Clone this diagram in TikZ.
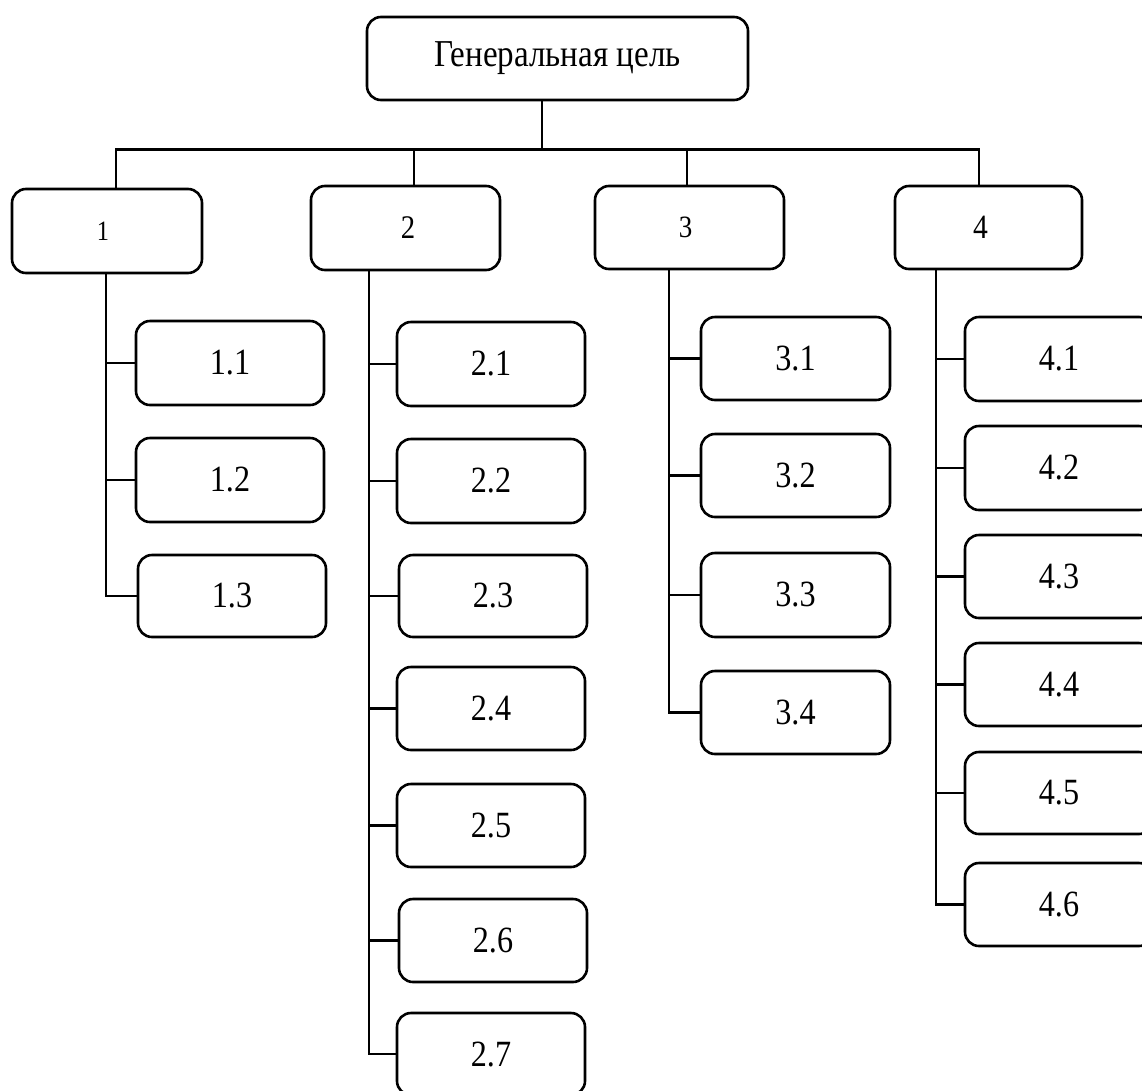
\documentclass[tikz,border=0pt]{standalone}
\usepackage{fontspec}
\setmainfont{Liberation Serif}
\newfontfamily\condfont[FakeStretch=0.87]{Liberation Serif}
\begin{document}
\begin{tikzpicture}[x=1pt,y=-1pt,
  box/.style={draw, line width=2.6pt, rounded corners=14pt, inner sep=0pt,
    minimum width=188pt, minimum height=84pt, font=\condfont\fontsize{37}{42}\selectfont},
  lvl/.style={box, font=\condfont\fontsize{33}{38}\selectfont},
  conn/.style={line width=2.6pt}]
\useasboundingbox (0,0) rectangle (1142,1090);
\clip (0,0) rectangle (1142,1090);
% top
\node[box, minimum width=381pt, minimum height=83pt, font=\condfont\fontsize{38}{44}\selectfont] (top) at (557.5,58.5) {Генеральная цель};
% level 1
\node[lvl, minimum width=190pt, font=\condfont\fontsize{28}{34}\selectfont] (b1) at (107,231) {\hspace*{-8pt}1};
\node[lvl, minimum width=189pt] (b2) at (405.5,228) {\hspace*{5pt}2};
\node[lvl, minimum width=189pt, minimum height=83pt, font=\condfont\fontsize{31}{36}\selectfont] (b3) at (689.5,227.5) {3\hspace*{8pt}};
\node[lvl, minimum width=187pt, minimum height=83pt, font=\condfont\fontsize{34}{40}\selectfont] (b4) at (988.5,227.5) {4\hspace*{16pt}};
% column 1
\node[box] (n11) at (230,363) {1.1};
\node[box] (n12) at (230,480) {1.2};
\node[box, minimum height=82pt] (n13) at (232,596) {1.3};
% column 2
\node[box] (n21) at (491,364) {2.1};
\node[box] (n22) at (491,481) {2.2};
\node[box, minimum height=82pt] (n23) at (493,596) {2.3};
\node[box, minimum height=83pt] (n24) at (491,708.5) {2.4};
\node[box, minimum height=83pt] (n25) at (491,825.5) {2.5};
\node[box, minimum height=83pt] (n26) at (493,940.5) {2.6};
\node[box, minimum height=82pt] (n27) at (491,1054) {2.7};
% column 3
\node[box, minimum width=189pt, minimum height=83pt] (n31) at (795.5,358.5) {3.1};
\node[box, minimum width=189pt, minimum height=83pt] (n32) at (795.5,475.5) {3.2};
\node[box, minimum width=189pt] (n33) at (795.5,595) {3.3};
\node[box, minimum width=189pt, minimum height=83pt] (n34) at (795.5,712.5) {3.4};
% column 4
\node[box] (n41) at (1059,359) {4.1};
\node[box] (n42) at (1059,468) {4.2};
\node[box, minimum height=83pt] (n43) at (1059,576.5) {4.3};
\node[box, minimum height=83pt] (n44) at (1059,684.5) {4.4};
\node[box, minimum height=82pt] (n45) at (1059,793) {4.5};
\node[box, minimum height=83pt] (n46) at (1059,904.5) {4.6};
% top connectors
\draw[conn] ([xshift=-15.5pt]top.south) -- ++(0,48) -| ([xshift=9pt]b1.north);
\draw[conn] ([xshift=-15.5pt]top.south) ++(0,48) -| ([xshift=8.5pt]b2.north);
\draw[conn] ([xshift=-15.5pt]top.south) ++(0,48) -| ([xshift=-2.5pt]b3.north);
\draw[conn] ([xshift=-15.5pt]top.south) ++(0,48) -| ([xshift=-9.5pt]b4.north);
% column connectors
\foreach \c in {n11,n12,n13} \draw[conn] ([xshift=-1pt]b1.south) |- (\c.west);
\foreach \c in {n21,n22,n23,n24,n25,n26,n27} \draw[conn] ([xshift=-36.5pt]b2.south) |- (\c.west);
\foreach \c in {n31,n32,n33,n34} \draw[conn] ([xshift=-20.5pt]b3.south) |- (\c.west);
\foreach \c in {n41,n42,n43,n44,n45,n46} \draw[conn] ([xshift=-52.5pt]b4.south) |- (\c.west);
\end{tikzpicture}
\end{document}
